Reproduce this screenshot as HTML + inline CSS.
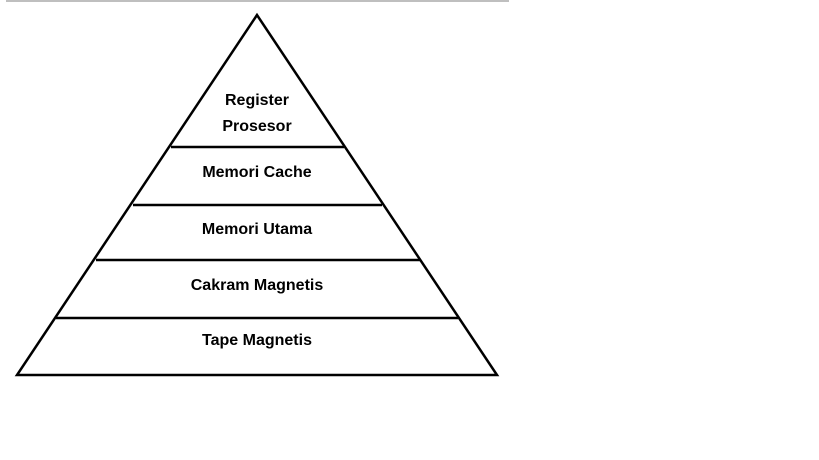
<!DOCTYPE html>
<html><head><style>body{margin:0;background:#fff}svg{display:block}</style></head><body>
<svg width="819" height="460" xmlns="http://www.w3.org/2000/svg">
<line x1="6" y1="1" x2="509" y2="1" stroke="#aaa" stroke-width="1.5"/>
<polygon points="257,15 17,375 497,375" fill="none" stroke="#000" stroke-width="2.5" stroke-linejoin="miter"/>
<g stroke="#000" stroke-width="2.5">
<line x1="171" y1="147" x2="344" y2="147"/>
<line x1="133" y1="205" x2="382" y2="205"/>
<line x1="96" y1="260" x2="420" y2="260"/>
<line x1="56" y1="318" x2="458" y2="318"/>
</g>
<g font-family="Liberation Sans, sans-serif" font-weight="bold" font-size="16" text-anchor="middle" fill="#000">
<text x="257" y="105">Register</text>
<text x="257" y="131">Prosesor</text>
<text x="257" y="177">Memori Cache</text>
<text x="257" y="234">Memori Utama</text>
<text x="257" y="290">Cakram Magnetis</text>
<text x="257" y="345">Tape Magnetis</text>
</g>
</svg>
</body></html>
